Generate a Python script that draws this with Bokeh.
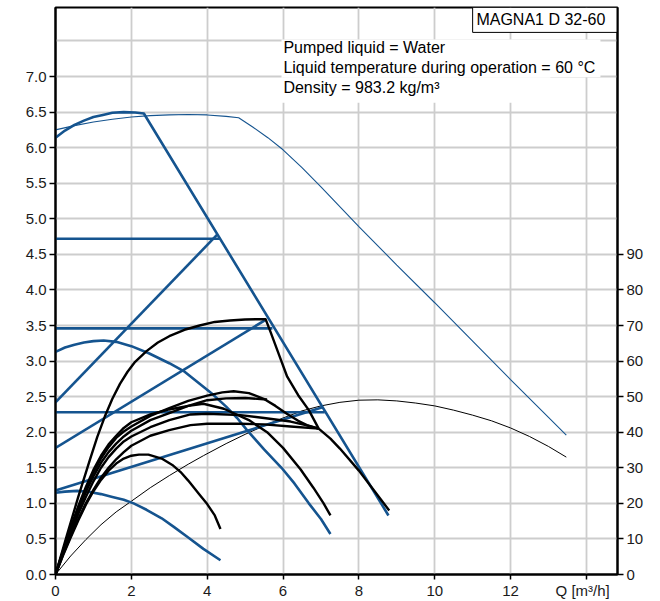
from bokeh.plotting import figure
from bokeh.models import Range1d, LinearAxis, FixedTicker, Label, PrintfTickFormatter
from bokeh.embed import file_html
from bokeh.resources import INLINE

BLUE = "#15548f"
FONT = "Liberation Sans"

# ---------------- data ----------------
# max curve (H, blue thick)
q_max = [0, 0.25, 0.5, 0.75, 1.0, 1.25, 1.5, 1.8, 2.1, 2.33, 8.78]
h_max = [6.14, 6.24, 6.32, 6.38, 6.43, 6.46, 6.49, 6.50, 6.495, 6.48, 0.83]

# thin blue curve
q_thin_blue = [0, 0.5, 1, 1.5, 2, 2.5, 3, 3.5, 4, 4.5, 4.83, 5.2, 5.6, 6, 6.5, 7, 8, 9, 10, 11, 12, 13, 13.47]
h_thin_blue = [6.25, 6.31, 6.36, 6.40, 6.43, 6.45, 6.46, 6.465, 6.46, 6.44, 6.42, 6.29, 6.14, 5.97, 5.72, 5.45,
               4.89, 4.35, 3.82, 3.28, 2.74, 2.21, 1.96]

# thin black curve (eta, plotted on H scale: eta/20)
q_thin_black = [0, 0.4, 0.8, 1.2, 1.6, 2.0, 2.5, 3.0, 3.5, 3.9, 4.5, 5.0, 5.5, 6.0, 6.5, 7.0, 7.5, 8.0, 8.5,
                9.0, 9.5, 10, 10.5, 11, 11.5, 12, 12.5, 13, 13.47]
h_thin_black = [0, 0.26, 0.49, 0.7, 0.88, 1.03, 1.22, 1.39, 1.55, 1.67, 1.84, 1.97, 2.09, 2.2, 2.3, 2.37, 2.42,
                2.45, 2.455, 2.44, 2.41, 2.37, 2.31, 2.24, 2.16, 2.06, 1.94, 1.8, 1.65]

# blue control curves
q_blue_b = [0, 0.25, 0.5, 0.75, 1.0, 1.27, 1.6, 2.0, 2.46, 3.0, 3.38, 3.8, 4.13, 4.5, 4.79, 5.05, 5.5, 5.96,
            6.3, 6.68, 7.0, 7.25]
h_blue_b = [3.13, 3.19, 3.23, 3.26, 3.28, 3.29, 3.27, 3.21, 3.11, 2.97, 2.86, 2.68, 2.54, 2.36, 2.2, 2.03, 1.76,
            1.5, 1.28, 1.0, 0.78, 0.57]

q_blue_c = [0, 0.25, 0.57, 0.9, 1.2, 1.5, 1.8, 2.06, 2.4, 2.8, 3.12, 3.5, 3.9, 4.35]
h_blue_c = [1.15, 1.165, 1.175, 1.16, 1.13, 1.09, 1.05, 1.0, 0.91, 0.79, 0.67, 0.52, 0.36, 0.2]

# proportional / constant pressure lines
q_pp1 = [0, 4.27]
h_pp1 = [2.42, 4.78]
q_cp1 = [0, 4.33]
h_cp1 = [4.72, 4.72]
q_pp2 = [0, 5.54]
h_pp2 = [1.78, 3.58]
q_cp2 = [0, 5.72]
h_cp2 = [3.46, 3.46]
q_pp3 = [0, 7.04]
h_pp3 = [1.18, 2.35]
q_cp3 = [0, 7.1]
h_cp3 = [2.28, 2.28]

# black thick curves
q_k1 = [0, 0.3, 0.6, 0.9, 1.1, 1.3, 1.5, 1.7, 1.9, 2.1, 2.4, 2.7, 3.0, 3.4, 3.8, 4.2, 4.6, 5.0, 5.54,
        5.67, 5.9, 6.11, 6.4, 6.68, 6.94]
h_k1 = [0, 0.55, 1.09, 1.6, 1.93, 2.22, 2.47, 2.68, 2.85, 2.99, 3.14, 3.26, 3.35, 3.44, 3.5, 3.55, 3.57, 3.585,
        3.59, 3.41, 3.08, 2.78, 2.52, 2.31, 2.05]

q_k3 = [0, 0.2, 0.4, 0.6, 0.8, 1.0, 1.2, 1.4, 1.6, 1.8, 2.0, 2.5, 3.0, 3.5, 4.0, 4.4, 4.7, 5.1, 5.49, 5.8, 6.1,
        6.4, 6.63, 6.94]
h_k3 = [0, 0.33, 0.64, 0.93, 1.2, 1.43, 1.63, 1.79, 1.92, 2.01, 2.08, 2.23, 2.34, 2.44, 2.515, 2.56, 2.575, 2.55,
        2.47, 2.37, 2.26, 2.16, 2.1, 2.05]

q_k4 = [0, 0.2, 0.4, 0.6, 0.8, 1.0, 1.2, 1.4, 1.6, 1.8, 2.0, 2.5, 3.0, 3.5, 4.0, 4.5, 5.0, 5.58]
h_k4 = [0, 0.32, 0.62, 0.9, 1.16, 1.38, 1.57, 1.72, 1.84, 1.94, 2.02, 2.17, 2.27, 2.37, 2.45, 2.475, 2.48, 2.46]

q_k6 = [0, 0.2, 0.4, 0.6, 0.8, 1.0, 1.2, 1.4, 1.6, 1.8, 2.0, 2.5, 3.0, 3.5, 3.9, 4.44, 5.1, 5.58, 6.0, 6.46, 6.8,
        7.07, 7.25]
h_k6 = [0, 0.34, 0.66, 0.96, 1.23, 1.47, 1.67, 1.83, 1.95, 2.06, 2.14, 2.25, 2.32, 2.37, 2.40, 2.33, 2.17, 2.0,
        1.78, 1.48, 1.22, 1.0, 0.83]

q_k7 = [0, 0.2, 0.4, 0.6, 0.8, 1.0, 1.2, 1.4, 1.6, 1.8, 2.0, 2.5, 3.0, 3.56, 4.0, 4.88, 5.5, 6.2, 6.6, 6.94]
h_k7 = [0, 0.3, 0.58, 0.85, 1.09, 1.31, 1.5, 1.65, 1.77, 1.87, 1.94, 2.07, 2.17, 2.25, 2.26, 2.24, 2.2, 2.15,
        2.1, 2.05]

q_k5 = [0, 0.2, 0.4, 0.6, 0.8, 1.0, 1.2, 1.4, 1.6, 1.8, 2.0, 2.5, 3.0, 3.56, 4.0, 4.88, 5.5, 6.2, 6.94]
h_k5 = [0, 0.28, 0.54, 0.78, 1.0, 1.19, 1.36, 1.5, 1.62, 1.72, 1.81, 1.95, 2.03, 2.1, 2.12, 2.12, 2.11, 2.08, 2.05]

q_k2 = [0, 0.2, 0.4, 0.6, 0.8, 1.0, 1.2, 1.4, 1.6, 1.8, 2.0, 2.2, 2.45, 2.8, 3.08, 3.3, 3.5, 3.8, 4.0, 4.2, 4.35]
h_k2 = [0, 0.27, 0.52, 0.76, 0.98, 1.17, 1.33, 1.46, 1.56, 1.63, 1.67, 1.685, 1.685, 1.63, 1.54, 1.44, 1.32, 1.12,
        0.99, 0.83, 0.64]

q_tail = [6.94, 7.25, 7.5, 8.0, 8.4, 8.8]
h_tail = [2.05, 1.91, 1.77, 1.46, 1.18, 0.9]

x_ticks = [0, 2, 4, 6, 8, 10, 12, 14]
x_tick_labels = {14: "Q [m\u00b3/h]\u2002"}
y_ticks = [i * 0.5 for i in range(15)]
y_grid = [i * 0.5 for i in range(16)]
eta_ticks = list(range(0, 100, 10))

info_lines = ["Pumped liquid = Water",
              "Liquid temperature during operation = 60 \u00b0C",
              "Density = 983.2 kg/m\u00b3"]
info_y = [7.41, 7.13, 6.85]
title_text = "MAGNA1 D 32-60"

# ---------------- figure ----------------
X_END = 14.82
Y_END = 7.97
p = figure(width=660, height=601, x_range=Range1d(0, X_END), y_range=Range1d(0, Y_END),
           output_backend="svg", toolbar_location=None,
           min_border_left=55, min_border_right=43, min_border_top=7, min_border_bottom=27)
p.background_fill_color = "white"
p.border_fill_color = "white"
p.outline_line_color = "black"
p.outline_line_width = 2

p.extra_y_ranges = {"eta": Range1d(0, Y_END * 20)}
right = LinearAxis(y_range_name="eta", ticker=FixedTicker(ticks=eta_ticks))
p.add_layout(right, "right")

p.xaxis.ticker = FixedTicker(ticks=x_ticks)
p.xaxis.major_label_overrides = x_tick_labels
p.yaxis[0].ticker = FixedTicker(ticks=y_ticks)
p.yaxis[0].formatter = PrintfTickFormatter(format="%.1f")

for ax in [p.xaxis[0], p.yaxis[0], right]:
    ax.axis_line_width = 2
    ax.axis_line_color = "black"
    ax.major_tick_line_width = 1.5
    ax.major_tick_line_color = "black"
    ax.major_tick_out = 6
    ax.major_tick_in = 0
    ax.minor_tick_line_color = None
    ax.major_label_text_font = FONT
    ax.major_label_text_font_size = "15px"
    ax.major_label_text_color = "#1a1a1a"
    ax.major_label_standoff = 3
p.xaxis[0].major_tick_out = 5
p.xaxis[0].major_label_standoff = 2

p.xgrid.ticker = FixedTicker(ticks=x_ticks)
p.ygrid.ticker = FixedTicker(ticks=y_grid)
for g in [p.xgrid, p.ygrid]:
    g.grid_line_color = "#cdcdcd"
    g.grid_line_width = 1.8

# info box backgrounds
p.quad(left=[5.96, 5.96], right=[14.37, 13.05], top=[7.52, 6.99], bottom=[6.99, 6.63],
       fill_color="white", line_color=None)
for t, y in zip(info_lines, info_y):
    p.add_layout(Label(x=6.01, y=y, text=t, text_font=FONT, text_font_size="16px",
                       text_baseline="middle", text_align="left", text_color="black"))

# title box
p.quad(left=[11.0], right=[X_END], top=[Y_END], bottom=[7.62], fill_color="white",
       line_color="black", line_width=1)
p.add_layout(Label(x=12.8, y=7.80, text=title_text, text_font=FONT, text_font_size="16px",
                   text_baseline="middle", text_align="center", text_color="black"))

# axis titles
for t, x, y in [("H", -0.53, 7.87), ("[m]", -0.53, 7.64), ("eta", 15.35, 7.87), ("[%]", 15.35, 7.64)]:
    p.add_layout(Label(x=x, y=y, text=t, text_font=FONT, text_font_size="15px",
                       text_baseline="middle", text_align="center", text_color="#1a1a1a"))

# thin curves
p.line(q_thin_blue, h_thin_blue, line_color=BLUE, line_width=1.1)
p.line(q_thin_black, h_thin_black, line_color="black", line_width=1.0)

# blue curves
TW = 2.6
for qq, hh in [(q_max, h_max), (q_blue_b, h_blue_b), (q_blue_c, h_blue_c),
               (q_pp1, h_pp1), (q_cp1, h_cp1), (q_pp2, h_pp2), (q_cp2, h_cp2),
               (q_pp3, h_pp3), (q_cp3, h_cp3)]:
    p.line(qq, hh, line_color=BLUE, line_width=TW, line_join="round")

# black curves
for qq, hh in [(q_k1, h_k1), (q_k3, h_k3), (q_k4, h_k4), (q_k6, h_k6), (q_k7, h_k7),
               (q_k5, h_k5), (q_k2, h_k2), (q_tail, h_tail)]:
    p.line(qq, hh, line_color="black", line_width=2.4, line_join="round")

open("out.html", "w").write(file_html(p, INLINE))
